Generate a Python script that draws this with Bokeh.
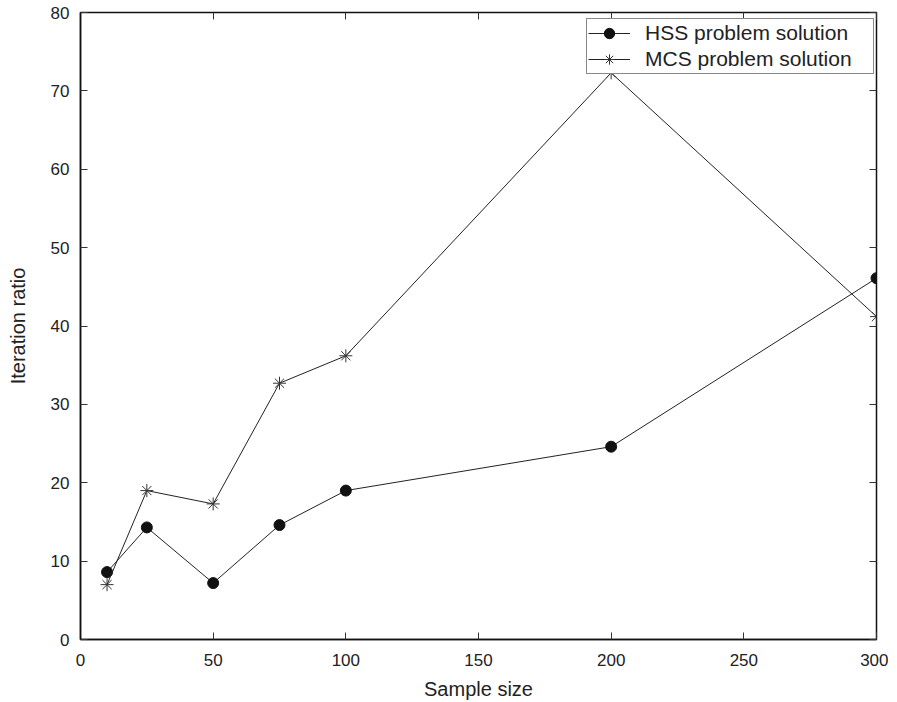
from bokeh.plotting import figure
from bokeh.models import LinearAxis, Range1d, Legend, LegendItem, FixedTicker, CustomJSTickFormatter
from bokeh.embed import file_html
from bokeh.resources import INLINE

sample_size = [10, 25, 50, 75, 100, 200, 300]
hss = [8.6, 14.3, 7.2, 14.6, 19.0, 24.6, 46.1]
mcs = [7.0, 19.0, 17.3, 32.7, 36.2, 72.3, 41.2]
x_ticks = [0, 50, 100, 150, 200, 250, 300]
y_ticks = [0, 10, 20, 30, 40, 50, 60, 70, 80]

FONT = "Liberation Sans"

p = figure(width=888, height=702, output_backend="svg", toolbar_location=None,
           x_range=Range1d(0, 300), y_range=Range1d(0, 80),
           min_border_left=80, min_border_right=12, min_border_top=12, min_border_bottom=63)
p.xgrid.visible = False
p.ygrid.visible = False
p.outline_line_color = "#111111"
p.outline_line_width = 1.5
p.background_fill_color = "white"
p.border_fill_color = "white"

for ax, ticks in ((p.xaxis[0], x_ticks), (p.yaxis[0], y_ticks)):
    ax.ticker = FixedTicker(ticks=ticks)
    ax.major_tick_in = 7
    ax.major_tick_out = 0
    ax.minor_tick_line_color = None
    ax.axis_line_color = "#111111"
    ax.axis_line_width = 1.5
    ax.major_tick_line_color = "#333333"
    ax.major_tick_line_width = 1
    ax.major_label_text_font = FONT
    ax.major_label_text_font_size = "17px"
    ax.major_label_text_color = "#222222"
    ax.axis_label_text_font = FONT
    ax.axis_label_text_font_size = "20px"
    ax.axis_label_text_font_style = "normal"
    ax.axis_label_text_color = "#222222"

p.xaxis.axis_label = "Sample size"
p.yaxis.axis_label = "Iteration ratio"
p.xaxis.major_label_standoff = 14
p.yaxis.major_label_standoff = 11
p.xaxis.axis_label_standoff = 9
p.yaxis.axis_label_standoff = 19

top = LinearAxis(ticker=FixedTicker(ticks=x_ticks), major_label_text_font_size="0px",
                 major_tick_in=7, major_tick_out=0, minor_tick_line_color=None,
                 axis_line_color=None, major_label_standoff=0, major_tick_line_color="#333333")
right = LinearAxis(ticker=FixedTicker(ticks=y_ticks), major_label_text_font_size="0px",
                   major_tick_in=7, major_tick_out=0, minor_tick_line_color=None,
                   axis_line_color=None, major_label_standoff=0, major_tick_line_color="#333333")
p.add_layout(top, "above")
p.add_layout(right, "right")

l1 = p.line(sample_size, hss, line_color="#222222", line_width=1)
m1 = p.scatter(sample_size, hss, marker="circle", size=11, fill_color="#111111", line_color="#111111")
l2 = p.line(sample_size, mcs, line_color="#222222", line_width=1)
m2 = p.scatter(sample_size, mcs, marker="asterisk", size=13, line_color="#333333", line_width=1)

legend = Legend(items=[LegendItem(label="HSS problem solution", renderers=[l1, m1]),
                       LegendItem(label="MCS problem solution", renderers=[l2, m2])],
                location=(506, 565), margin=0, padding=1, spacing=0,
                label_text_font=FONT, label_text_font_size="21px", label_text_color="#222222",
                glyph_width=42, glyph_height=26, label_standoff=15, label_height=26,
                label_width=227,
                border_line_color="#111111", border_line_width=1.2,
                background_fill_alpha=1.0)
p.add_layout(legend, "center")

open("out.html", "w").write(file_html(p, INLINE))
